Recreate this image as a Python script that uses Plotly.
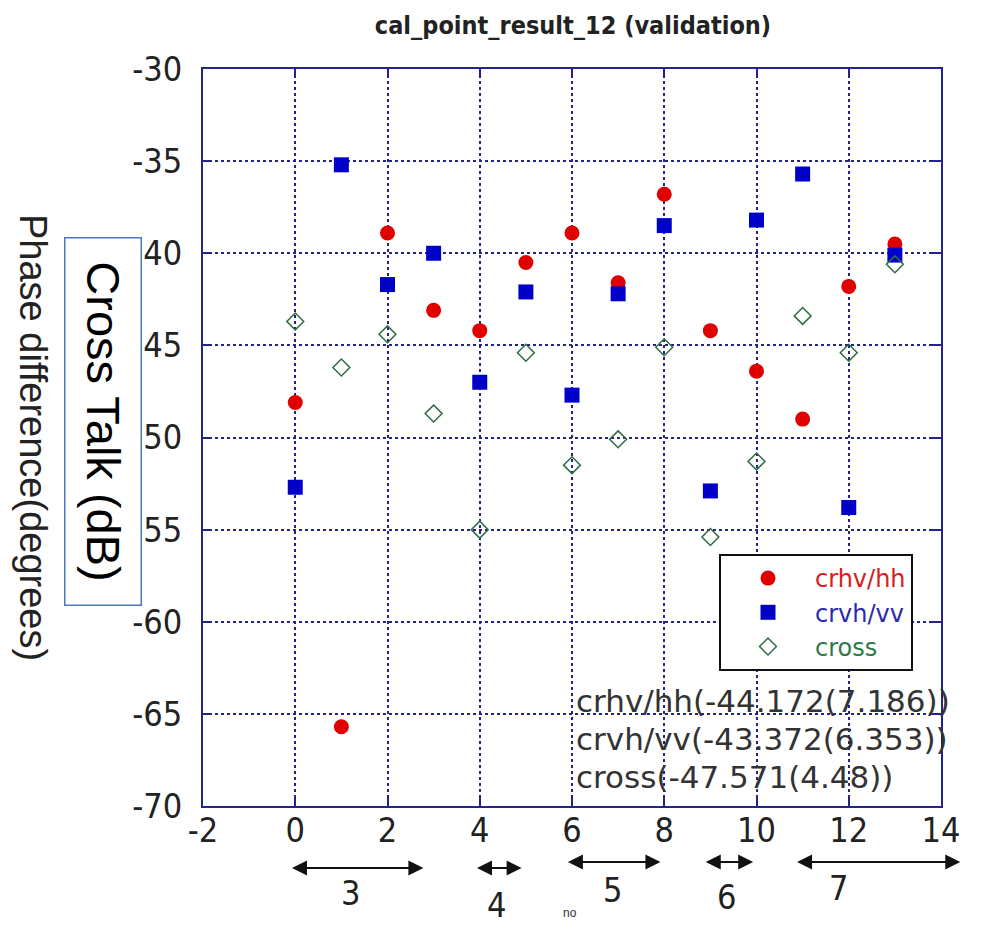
import plotly.graph_objects as go

# ---- data ----
x_no = [0, 1, 2, 3, 4, 5, 6, 7, 8, 9, 10, 11, 12, 13]
crhv_hh = [-48.1, -65.7, -38.9, -43.1, -44.2, -40.5, -38.9, -41.6, -36.8, -44.2, -46.4, -49.0, -41.8, -39.5]
crvh_vv = [-52.7, -35.2, -41.7, -40.0, -47.0, -42.1, -47.7, -42.2, -38.5, -52.9, -38.2, -35.7, -53.8, -40.1]
cross = [-43.7, -46.2, -44.4, -48.7, -55.0, -45.4, -51.5, -50.1, -45.1, -55.4, -51.3, -43.4, -45.4, -40.6]

stats_lines = ["crhv/hh(-44.172(7.186))", "crvh/vv(-43.372(6.353))", "cross(-47.571(4.48))"]

group_labels = ["3", "4", "5", "6", "7"]
group_start = [-0.07, 3.94, 5.91, 8.9, 10.88]
group_end = [2.81, 4.94, 7.95, 9.96, 14.45]
group_label_x = [1.19, 4.37, 6.87, 9.36, 11.77]

x_ticks = [-2, 0, 2, 4, 6, 8, 10, 12, 14]
x_tick_text = ["-2", "0", "2", "4", "6", "8", "10", "12", "14"]
y_ticks = [-70, -65, -60, -55, -50, -45, -40, -35, -30]
y_tick_text = ["-70", "-65", "-60", "-55", "-50", "-45", "-40", "-35", "-30"]

# ---- style ----
NAVY = "#23238f"
RED = "#e00000"
BLUE = "#0000c8"
GREEN = "#2f6b45"
NARROW = "Liberation Sans Narrow, DejaVu Sans Condensed, Arial Narrow, sans-serif"
SANS = "Liberation Sans, Arial, sans-serif"

# page offset compensation (the html body has an 8px margin)
OFF = 8
PL, PR, PT, PB = 203, 941, 69, 806


def px(xp):
    return (xp - PL) / (PR - PL)


def py(yp):
    return (PB - yp) / (PB - PT)


arrow_y = [py(868), py(868), py(862), py(862), py(862)]
label_y = [py(893), py(905), py(890), py(897), py(888)]

fig = go.Figure()
fig.add_trace(go.Scatter(x=x_no, y=crhv_hh, mode="markers",
                         name="<span style='color:#d42020'>crhv/hh</span>",
                         marker=dict(symbol="circle", size=15, color=RED)))
fig.add_trace(go.Scatter(x=x_no, y=crvh_vv, mode="markers",
                         name="<span style='color:#2a2ab0'>crvh/vv</span>",
                         marker=dict(symbol="square", size=15, color=BLUE)))
fig.add_trace(go.Scatter(x=x_no, y=cross, mode="markers",
                         name="<span style='color:#2f7a4a'>cross</span>",
                         marker=dict(symbol="diamond-open", size=13, color=GREEN,
                                     line=dict(width=1.5, color=GREEN))))

axis_common = dict(showline=True, linecolor=NAVY, linewidth=2, mirror="ticks",
                   ticks="inside", ticklen=9, tickwidth=2, tickcolor=NAVY,
                   showgrid=True, gridcolor=NAVY, griddash="dot", gridwidth=1.5,
                   zeroline=False,
                   tickfont=dict(family=NARROW, size=34, color="#222222"))

fig.update_xaxes(range=[-2, 14], tickvals=x_ticks, ticktext=x_tick_text,
                 ticklabelstandoff=-7, **axis_common)
fig.update_yaxes(range=[-70, -30], tickvals=y_ticks, ticktext=y_tick_text,
                 ticklabelstandoff=12, **axis_common)

annotations = []
annotations.append(dict(text="Phase difference(degrees)", xref="paper", yref="paper",
                        x=px(33), y=py(437), showarrow=False,
                        textangle=90, font=dict(family=SANS, size=38, color="#222222"),
                        xanchor="center", yanchor="middle"))
annotations.append(dict(text="Cross Talk (dB)", xref="paper", yref="paper",
                        x=px(103), y=py(421), showarrow=False,
                        textangle=90, font=dict(family=SANS, size=47, color="#000000"),
                        bordercolor="#4a78c0", borderwidth=1.5, bgcolor="white",
                        borderpad=1, width=364, height=73,
                        xanchor="center", yanchor="middle"))
for i, line in enumerate(stats_lines):
    annotations.append(dict(text=line, xref="paper", yref="paper",
                            x=px(574), y=py(701 + 38 * i),
                            showarrow=False, xanchor="left", yanchor="middle",
                            font=dict(family="DejaVu Sans, sans-serif", size=31, color="#333333")))
for lab, s, e, lx, ay_, ly in zip(group_labels, group_start, group_end, group_label_x, arrow_y, label_y):
    annotations.append(dict(text="", xref="x", yref="paper", x=s, y=ay_,
                            axref="x", ayref="pixel", ax=e, ay=0,
                            showarrow=True, arrowhead=2, arrowside="end+start",
                            arrowsize=1.5, arrowwidth=2, arrowcolor="#111111"))
    annotations.append(dict(text=lab, xref="x", yref="paper", x=lx, y=ly,
                            showarrow=False, xanchor="center", yanchor="middle",
                            font=dict(family=NARROW, size=34, color="#222222")))
annotations.append(dict(text="no", xref="paper", yref="paper",
                        x=px(570), y=py(922), showarrow=False,
                        font=dict(family=SANS, size=12, color="#333333")))

W, H = 981 - OFF, 929 - OFF
fig.update_layout(
    width=W, height=H,
    margin=dict(l=PL - OFF, r=W - (PR - OFF), t=PT - OFF, b=H - (PB - OFF)),
    paper_bgcolor="white", plot_bgcolor="white",
    title=dict(text="<b>cal_point_result_12 (validation)</b>", x=(573 - OFF) / W, xanchor="center",
               y=1 - (25 - OFF) / H, yanchor="middle",
               font=dict(family=NARROW, size=25, color="#222222")),
    legend=dict(x=px(719), y=py(554), xanchor="left", yanchor="top",
                bgcolor="white", bordercolor="#111111", borderwidth=2,
                font=dict(family="DejaVu Sans, sans-serif", size=24), itemwidth=84,
                tracegroupgap=0),
    showlegend=True,
    annotations=annotations,
)

fig.write_html("out.html")
